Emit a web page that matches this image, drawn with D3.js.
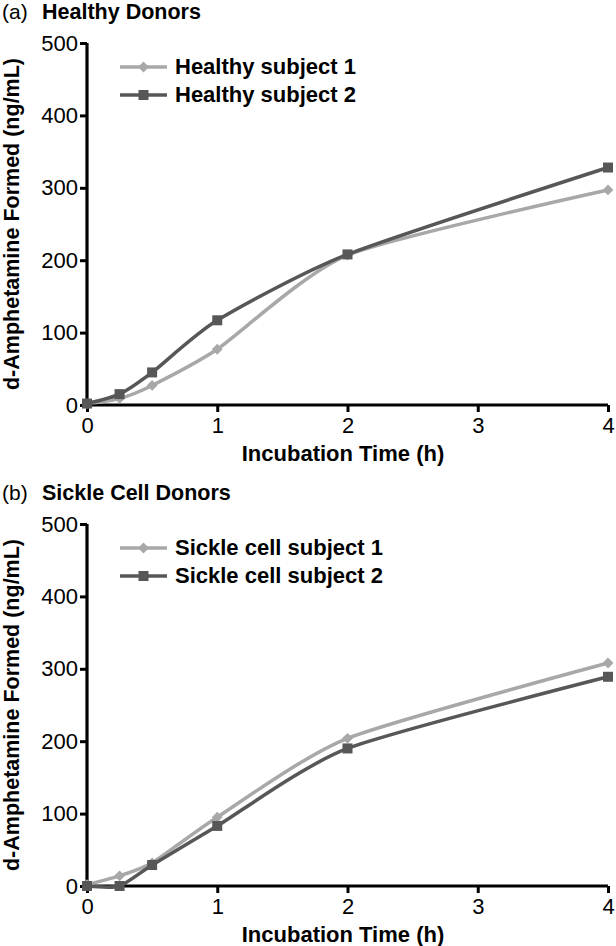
<!DOCTYPE html>
<html>
<head>
<meta charset="utf-8">
<script src="https://cdn.jsdelivr.net/npm/d3@7"></script>
<style>
  body { margin: 0; background: #fff; }
  svg { display: block; font-family: "Liberation Sans", Arial, Helvetica, sans-serif; }
</style>
</head>
<body>
<div id="chart"></div>
<script>
// data
const timePoints = [0, 0.25, 0.5, 1, 2, 4];
const healthySubject1 = [2, 9, 27, 77, 207, 297];
const healthySubject2 = [2, 15, 45, 117, 208, 328];
const sickleSubject1 = [2, 14, 32, 95, 204, 308];
const sickleSubject2 = [0, 0, 29, 83, 190, 289];
const xTicks = [0, 1, 2, 3, 4];
const yTicks = [0, 100, 200, 300, 400, 500];

const panels = [
  { tag: "(a)", title: "Healthy Donors", top: 0,
    series: [
      { name: "Healthy subject 1", values: healthySubject1, color: "#a8a8a8", marker: "diamond" },
      { name: "Healthy subject 2", values: healthySubject2, color: "#575757", marker: "square" }
    ] },
  { tag: "(b)", title: "Sickle Cell Donors", top: 481,
    series: [
      { name: "Sickle cell subject 1", values: sickleSubject1, color: "#a8a8a8", marker: "diamond" },
      { name: "Sickle cell subject 2", values: sickleSubject2, color: "#575757", marker: "square" }
    ] }
];

const W = 616, H = 946;
const svg = d3.select("#chart").append("svg")
  .attr("width", W)
  .attr("height", H);

const x = d3.scaleLinear().domain([0, 4]).range([87, 608]);

panels.forEach(p => {
  const g = svg.append("g").attr("transform", "translate(0," + p.top + ")");
  const y = d3.scaleLinear().domain([0, 500]).range([405, 43]);

  // titles
  g.append("text").attr("x", 2).attr("y", 19)
    .style("font-size", "21px").text(p.tag);
  g.append("text").attr("x", 42).attr("y", 19)
    .style("font-size", "21.5px").style("font-weight", "bold").text(p.title);

  // axes
  const xAxis = g.append("g")
    .attr("transform", "translate(0," + y(0) + ")")
    .call(d3.axisBottom(x).tickValues(xTicks).tickSize(7).tickPadding(5).tickFormat(d3.format("d")));
  const yAxis = g.append("g")
    .attr("transform", "translate(" + x(0) + ",0)")
    .call(d3.axisLeft(y).tickValues(yTicks).tickSize(7).tickPadding(2));
  [xAxis, yAxis].forEach(a => {
    a.select(".domain").attr("stroke", "#000").attr("stroke-width", 3.2);
    a.selectAll(".tick line").attr("stroke", "#000").attr("stroke-width", 3);
    a.selectAll(".tick text").style("font-size", "22px").attr("fill", "#000")
      .style("font-family", "'Liberation Sans', Arial, sans-serif");
  });
  xAxis.select(".domain").attr("d", "M" + x(0) + ",0H" + x(4));
  yAxis.select(".domain").attr("d", "M0," + y(0) + "V" + y(500));

  // axis labels
  g.append("text")
    .attr("x", 343).attr("y", 461)
    .attr("text-anchor", "middle")
    .style("font-size", "22px").style("font-weight", "bold")
    .text("Incubation Time (h)");
  g.append("text")
    .attr("transform", "translate(19," + (y(0) + y(500)) / 2 + ") rotate(-90)")
    .attr("text-anchor", "middle")
    .style("font-size", "21.5px").style("font-weight", "bold")
    .text("d-Amphetamine Formed (ng/mL)");

  const line = d3.line()
    .x((d, i) => x(timePoints[i]))
    .y(d => y(d))
    .curve(d3.curveCardinal.tension(0.35));

  const drawMarker = (sel, s, cx, cy) => {
    if (s.marker === "diamond") {
      sel.append("path")
        .attr("d", d3.symbol(d3.symbolSquare, 58)())
        .attr("transform", "translate(" + cx + "," + cy + ") rotate(45)")
        .attr("fill", s.color);
    } else {
      sel.append("rect")
        .attr("x", cx - 5).attr("y", cy - 5)
        .attr("width", 10).attr("height", 10)
        .attr("fill", s.color);
    }
  };

  p.series.forEach(s => {
    g.append("path")
      .datum(s.values)
      .attr("fill", "none")
      .attr("stroke", s.color)
      .attr("stroke-width", 3.5)
      .attr("d", line);
    const mk = g.append("g");
    s.values.forEach((v, i) => drawMarker(mk, s, x(timePoints[i]), y(v)));
  });

  // legend
  const legend = g.append("g");
  p.series.forEach((s, i) => {
    const ly = 67 + i * 28;
    legend.append("line")
      .attr("x1", 120).attr("x2", 167).attr("y1", ly).attr("y2", ly)
      .attr("stroke", s.color).attr("stroke-width", 3.5);
    drawMarker(legend, s, 143.5, ly);
    legend.append("text")
      .attr("x", 175).attr("y", ly + 7)
      .style("font-size", "22px").style("font-weight", "bold")
      .text(s.name);
  });
});
</script>
</body>
</html>
